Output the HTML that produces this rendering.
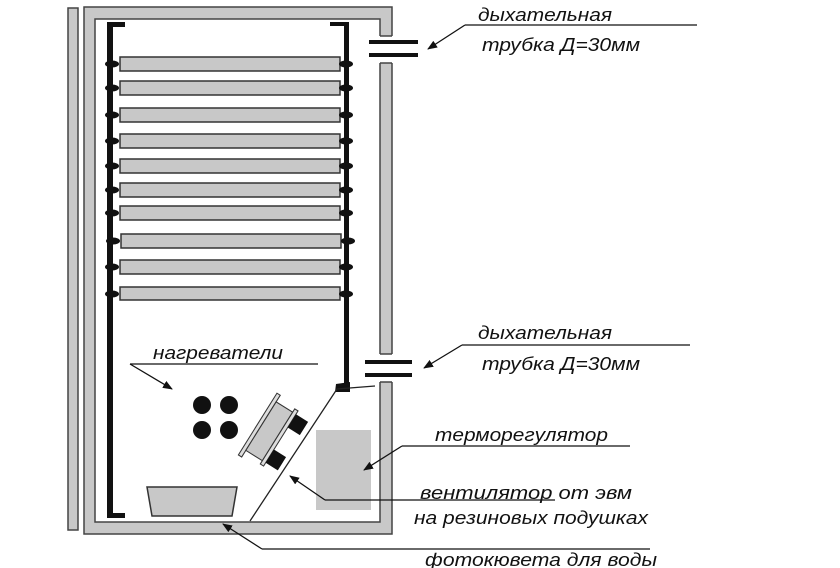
<!DOCTYPE html>
<html><head><meta charset="utf-8"><style>
html,body{margin:0;padding:0;background:#fff;}
svg{display:block}
text{font-family:"Liberation Sans","DejaVu Sans",sans-serif;font-style:italic;font-size:18px;fill:#111}
</style></head><body>
<svg width="840" height="568" viewBox="0 0 840 568" xmlns="http://www.w3.org/2000/svg">
<defs><marker id="a" markerWidth="10" markerHeight="8" refX="9" refY="4" orient="auto" markerUnits="userSpaceOnUse"><path d="M0,0 L10,4 L0,8 Z" fill="#111"/></marker></defs>
<rect x="68" y="8" width="10" height="522" fill="#c8c8c8" stroke="#444" stroke-width="1.5"/>
<rect x="84" y="7" width="308" height="527" fill="#c8c8c8" stroke="#444" stroke-width="1.5"/>
<rect x="95" y="19" width="285" height="503" fill="#fff" stroke="#444" stroke-width="1.5"/>
<rect x="379" y="36" width="14" height="27" fill="#fff"/>
<rect x="379" y="354" width="14" height="28" fill="#fff"/>
<line x1="380" y1="36" x2="392" y2="36" stroke="#444" stroke-width="1.5"/>
<line x1="380" y1="63" x2="392" y2="63" stroke="#444" stroke-width="1.5"/>
<line x1="380" y1="354" x2="392" y2="354" stroke="#444" stroke-width="1.5"/>
<line x1="380" y1="382" x2="392" y2="382" stroke="#444" stroke-width="1.5"/>
<g stroke="#111" stroke-width="4">
<line x1="369" y1="42" x2="418" y2="42"/><line x1="369" y1="55" x2="418" y2="55"/>
<line x1="365" y1="362" x2="412" y2="362"/><line x1="365" y1="375" x2="412" y2="375"/>
</g>
<g fill="#111">
<rect x="107" y="22" width="6" height="496"/><rect x="107" y="22" width="18" height="5"/><rect x="107" y="513" width="18" height="5"/>
<rect x="344" y="22" width="5" height="368"/><rect x="330" y="22" width="18" height="4"/>
<path d="M336,384 L350,382 L350,392 L335,392 Z"/>
</g>
<g fill="#c8c8c8" stroke="#333" stroke-width="1.5">
<rect x="120" y="57" width="220" height="14"/>
<rect x="120" y="81" width="220" height="14"/>
<rect x="120" y="108" width="220" height="14"/>
<rect x="120" y="134" width="220" height="14"/>
<rect x="120" y="159" width="220" height="14"/>
<rect x="120" y="183" width="220" height="14"/>
<rect x="120" y="206" width="220" height="14"/>
<rect x="121" y="234" width="220" height="14"/>
<rect x="120" y="260" width="220" height="14"/>
<rect x="120" y="287" width="220" height="13"/>
</g>
<g fill="#111">
<ellipse cx="112" cy="64" rx="7" ry="3.5"/><ellipse cx="346" cy="64" rx="7" ry="3.5"/>
<ellipse cx="112" cy="88" rx="7" ry="3.5"/><ellipse cx="346" cy="88" rx="7" ry="3.5"/>
<ellipse cx="112" cy="115" rx="7" ry="3.5"/><ellipse cx="346" cy="115" rx="7" ry="3.5"/>
<ellipse cx="112" cy="141" rx="7" ry="3.5"/><ellipse cx="346" cy="141" rx="7" ry="3.5"/>
<ellipse cx="112" cy="166" rx="7" ry="3.5"/><ellipse cx="346" cy="166" rx="7" ry="3.5"/>
<ellipse cx="112" cy="190" rx="7" ry="3.5"/><ellipse cx="346" cy="190" rx="7" ry="3.5"/>
<ellipse cx="112" cy="213" rx="7" ry="3.5"/><ellipse cx="346" cy="213" rx="7" ry="3.5"/>
<ellipse cx="113" cy="241" rx="7" ry="3.5"/><ellipse cx="348" cy="241" rx="7" ry="3.5"/>
<ellipse cx="112" cy="267" rx="7" ry="3.5"/><ellipse cx="346" cy="267" rx="7" ry="3.5"/>
<ellipse cx="112" cy="294" rx="7" ry="3.5"/><ellipse cx="346" cy="294" rx="7" ry="3.5"/>
</g>
<g fill="#111"><circle cx="202" cy="405" r="9"/><circle cx="229" cy="405" r="9"/><circle cx="202" cy="430" r="9"/><circle cx="229" cy="430" r="9"/></g>
<polyline points="250,521 337,389 375,386" fill="none" stroke="#222" stroke-width="1.3"/>
<g transform="translate(272,433) rotate(-58) scale(1.3)">
<rect x="-28" y="-13" width="56" height="3" fill="#ddd" stroke="#333" stroke-width="0.8"/>
<rect x="-22" y="-10" width="44" height="15" fill="#c8c8c8" stroke="#333" stroke-width="0.8"/>
<rect x="-25" y="5" width="50" height="3" fill="#ddd" stroke="#333" stroke-width="0.8"/>
<rect x="-22" y="8" width="12" height="11" fill="#111"/>
<rect x="10" y="8" width="12" height="11" fill="#111"/>
</g>
<rect x="316" y="430" width="55" height="80" fill="#c8c8c8"/>
<polygon points="147,487 237,487 232,516 152,516" fill="#c8c8c8" stroke="#333" stroke-width="1.5"/>
<g stroke="#111" stroke-width="1.3" fill="none">
<line x1="465" y1="25" x2="697" y2="25"/><line x1="465" y1="25" x2="428" y2="49" marker-end="url(#a)"/>
<line x1="462" y1="345" x2="690" y2="345"/><line x1="462" y1="345" x2="424" y2="368" marker-end="url(#a)"/>
<line x1="130" y1="364" x2="318" y2="364"/><line x1="130" y1="364" x2="172" y2="389" marker-end="url(#a)"/>
<line x1="402" y1="446" x2="630" y2="446"/><line x1="402" y1="446" x2="364" y2="470" marker-end="url(#a)"/>
<line x1="325" y1="500" x2="555" y2="500"/><line x1="325" y1="500" x2="290" y2="476" marker-end="url(#a)"/>
<line x1="262" y1="549" x2="650" y2="549"/><line x1="262" y1="549" x2="223" y2="524" marker-end="url(#a)"/>
</g>
<text x="478" y="21" textLength="134" lengthAdjust="spacingAndGlyphs">дыхательная</text>
<text x="482" y="51" textLength="158" lengthAdjust="spacingAndGlyphs">трубка Д=30мм</text>
<text x="478" y="339" textLength="134" lengthAdjust="spacingAndGlyphs">дыхательная</text>
<text x="482" y="370" textLength="158" lengthAdjust="spacingAndGlyphs">трубка Д=30мм</text>
<text x="153" y="359" textLength="130" lengthAdjust="spacingAndGlyphs">нагреватели</text>
<text x="435" y="441" textLength="173" lengthAdjust="spacingAndGlyphs">терморегулятор</text>
<text x="420" y="499" textLength="212" lengthAdjust="spacingAndGlyphs">вентилятор от  эвм</text>
<text x="414" y="524" textLength="234" lengthAdjust="spacingAndGlyphs">на резиновых подушках</text>
<text x="425" y="566" textLength="232" lengthAdjust="spacingAndGlyphs">фотокювета для воды</text>
</svg>
</body></html>
